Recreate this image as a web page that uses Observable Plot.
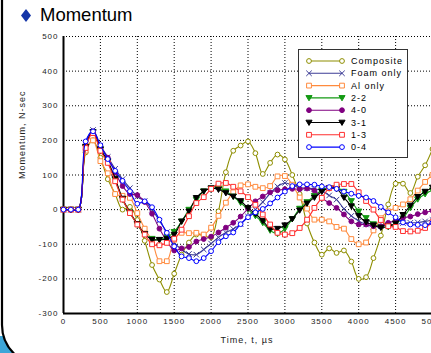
<!DOCTYPE html>
<html>
<head>
<meta charset="utf-8">
<script src="https://cdn.jsdelivr.net/npm/d3@7"></script>
<script src="https://cdn.jsdelivr.net/npm/@observablehq/plot@0.6"></script>
<style>
  html, body { margin: 0; padding: 0; background: #fff; }
  body { width: 431px; height: 353px; overflow: hidden; position: relative;
         font-family: "Liberation Sans", Arial, sans-serif; }
  #deco { position: absolute; left: 0; top: 0; }
  #title { position: absolute; left: 40px; top: 5px; font-size: 18.5px; line-height: 20px; color: #000; }
  #chart { position: absolute; left: 0; top: 0; width: 460px; }
  #chart svg { max-width: none !important; }
</style>
</head>
<body>
<svg id="deco" width="431" height="353">
  <rect x="0" y="336" width="24" height="20" fill="#3DA6D8"/>
  <path d="M2,-5 L2,325 A40,40 0 0 0 42,365 L470,365 L470,-5 Z" fill="#fff"/>
  <path d="M2,-5 L2,325 A40,40 0 0 0 42,365" fill="none" stroke="#000" stroke-width="2.2"/>
  <polygon points="26,9 31,15.5 26,22 21,15.5" fill="#1536A8"/>
</svg>
<div id="title">Momentum</div>
<div id="chart"></div>
<script>
// Sample times (µs)
const times = [0, 100, 200, 300, 400, 500, 600, 700, 800, 900,
  1000, 1100, 1200, 1300, 1400, 1500, 1600, 1700, 1800, 1900,
  2000, 2100, 2200, 2300, 2400, 2500, 2600, 2700, 2800, 2900,
  3000, 3100, 3200, 3300, 3400, 3500, 3600, 3700, 3800, 3900,
  4000, 4100, 4200, 4300, 4400, 4500, 4600, 4700, 4800, 4900, 5000];

// Momentum (N-sec) for each configuration
const composite = [0, 0, 0, 165, 200, 150, 88, 45, 0, 8,
  -30, -90, -160, -202, -238, -185, -130, -95, -72, -75,
  -80, -5, 108, 170, 185, 197, 163, 103, 135, 159,
  145, 100, 45, -40, -95, -130, -112, -125, -118, -150,
  -200, -195, -140, -75, 15, 75, 75, 48, 95, 128, 175];
const foamOnly = [0, 0, 0, 190, 230, 185, 152, 118, 88, 62,
  38, 25, 0, -32, -65, -95, -115, -128, -130, -115,
  -98, -80, -66, -56, -42, -20, 0, 22, 47, 67,
  77, 70, 64, 62, 60, 55, 41, 29, 2, -18,
  -33, -43, -50, -48, -44, -43, -39, -38, -37, -34, -30];
const alOnly = [0, 0, 0, 170, 200, 140, 105, 45, 40, 34,
  -10, -55, -90, -149, -149, -87, -67, -68, -67, -72,
  -52, -18, 20, 50, 70, 73, 66, 62, 68, 96,
  97, 72, 35, 3, -29, -29, -34, -50, -55, -85,
  -100, -95, -60, -25, -5, 5, 15, 30, 55, 80, 100];
const s22 = [0, 0, 0, 180, 224, 173, 139, 87, 29, -10,
  -43, -72, -84, -87, -80, -64, -34, 0, 29, 53,
  61, 61, 53, 38, 20, 0, -18, -38, -60, -70,
  -55, -27, 3, 22, 40, 56, 62, 62, 52, 25,
  -5, -24, -42, -50, -50, -40, -25, 5, 30, 45, 56];
const s40 = [0, 0, 0, 185, 226, 180, 150, 108, 68, 45,
  42, 22, -12, -55, -90, -118, -112, -108, -92, -85,
  -78, -66, -52, -38, -20, 3, 24, 38, 50, 56,
  59, 60, 59, 61, 55, 34, 19, 5, -14, -34,
  -43, -43, -48, -48, -38, -32, -24, -20, -13, -8, -3];
const s31 = [0, 0, 0, 182, 224, 175, 140, 90, 32, -8,
  -41, -70, -87, -87, -85, -72, -34, -5, 34, 53,
  62, 58, 48, 38, 25, 5, -12, -32, -55, -55,
  -45, -27, -2, 18, 35, 52, 62, 60, 35, 10,
  -18, -36, -45, -52, -48, -40, -15, 12, 37, 52, 64];
const s13 = [0, 0, 0, 178, 221, 170, 135, 82, 29, -10,
  -43, -72, -100, -103, -96, -84, -58, -19, 19, 36,
  60, 75, 77, 66, 53, 36, 14, -14, -43, -67,
  -72, -68, -53, -29, 5, 34, 62, 72, 74, 74,
  50, 25, 0, -30, -48, -50, -62, -63, -61, -53, -36];
const s04 = [0, 0, 0, 197, 226, 186, 146, 112, 83, 53,
  17, 24, 7, -29, -67, -106, -135, -140, -149, -140,
  -120, -94, -77, -66, -42, -22, -8, 2, 18, 35,
  52, 68, 73, 73, 72, 67, 65, 60, 52, 46,
  40, 35, 25, 8, -8, -22, -37, -43, -44, -45, -38];

const xTicks = [0, 500, 1000, 1500, 2000, 2500, 3000, 3500, 4000, 4500, 5000];
const yTicks = [-300, -200, -100, 0, 100, 200, 300, 400, 500];

// Downward-pointing triangle marker
const triangleDown = {
  draw(context, size) {
    const h = Math.sqrt(size) * 0.62;
    context.moveTo(-h, -h * 0.75);
    context.lineTo(h, -h * 0.75);
    context.lineTo(0, h * 0.95);
    context.closePath();
  }
};

const series = [
  {name: "Composite", values: composite, color: "#8E8E00", symbol: "circle", r: 2.4, fill: "white", d3sym: d3.symbolCircle},
  {name: "Foam only", values: foamOnly, color: "#3C3C96", symbol: "times", r: 2.6, fill: "none", d3sym: d3.symbolTimes},
  {name: "Al only", values: alOnly, color: "#FF8A3D", symbol: "square", r: 2.7, fill: "white", d3sym: d3.symbolSquare},
  {name: "2-2", values: s22, color: "#139A13", symbol: triangleDown, r: 2.8, fill: "#139A13", d3sym: triangleDown},
  {name: "4-0", values: s40, color: "#800080", symbol: "circle", r: 2.4, fill: "#800080", d3sym: d3.symbolCircle},
  {name: "3-1", values: s31, color: "#000000", symbol: triangleDown, r: 2.8, fill: "#000000", d3sym: triangleDown},
  {name: "1-3", values: s13, color: "#FF2F2F", symbol: "square", r: 2.7, fill: "white", d3sym: d3.symbolSquare},
  {name: "0-4", values: s04, color: "#0000FF", symbol: "circle", r: 2.4, fill: "white", d3sym: d3.symbolCircle}
];

const seriesMarks = series.flatMap(s => {
  const rows = times.map((t, i) => ({t, v: s.values[i]}));
  return [
    Plot.line(rows, {x: "t", y: "v", stroke: s.color, strokeWidth: 1.1, curve: "catmull-rom"}),
    Plot.dot(rows, {x: "t", y: "v", symbol: s.symbol, r: s.r, stroke: s.color, strokeWidth: 1, fill: s.fill})
  ];
});

const chart = Plot.plot({
  width: 460,
  height: 353,
  marginLeft: 63,
  marginRight: 28,
  marginTop: 36,
  marginBottom: 40,
  style: {background: "transparent", fontFamily: "'Liberation Sans', Arial, sans-serif", fontSize: "8px",
          color: "#222", letterSpacing: "1px", overflow: "visible", maxWidth: "none"},
  x: {domain: [0, 5000]},
  y: {domain: [-300, 500]},
  marks: [
    Plot.gridX(xTicks, {stroke: "#000", strokeOpacity: 1, strokeWidth: 1, strokeDasharray: "1,2"}),
    Plot.gridY(yTicks, {stroke: "#000", strokeOpacity: 1, strokeWidth: 1, strokeDasharray: "1,2"}),
    Plot.axisX(xTicks, {tickSize: 0, tickPadding: 5, tickFormat: d => String(d), label: null}),
    Plot.axisY(yTicks, {tickSize: 0, tickPadding: 5, tickFormat: d => String(d), label: null}),
    Plot.ruleX([0], {stroke: "#000", strokeWidth: 2}),
    Plot.ruleY([-300], {stroke: "#000", strokeWidth: 2}),
    ...seriesMarks,
    Plot.text(["Time, t, µs"], {frameAnchor: "bottom", dx: -1, dy: 29, fontSize: 9, fill: "#222"}),
    Plot.text(["Momentum, N-sec"], {frameAnchor: "left", dx: -41, dy: 4, rotate: -90, fontSize: 9, fill: "#222"})
  ]
});
chart.setAttribute("width", 460);
chart.style.width = "460px";
chart.style.height = "353px";
document.getElementById("chart").appendChild(chart);

// Legend box
const svg = d3.select(chart);
const lg = svg.append("g").attr("font-size", 9).attr("fill", "#000").attr("text-anchor", "start");
lg.append("rect").attr("x", 298.5).attr("y", 49.5).attr("width", 109).attr("height", 108)
  .attr("fill", "white").attr("stroke", "#333").attr("stroke-width", 1);
series.forEach((s, i) => {
  const y = 61 + i * 12.3;
  lg.append("line").attr("x1", 309).attr("x2", 342).attr("y1", y).attr("y2", y)
    .attr("stroke", s.color).attr("stroke-width", 1.1);
  const path = d3.symbol(s.d3sym, Math.PI * s.r * s.r)();
  [309, 342].forEach(x => {
    lg.append("path").attr("d", path).attr("transform", `translate(${x},${y})`)
      .attr("fill", s.fill).attr("stroke", s.color).attr("stroke-width", 1);
  });
  lg.append("text").attr("x", 351).attr("y", y).attr("dy", "0.35em").text(s.name);
});
</script>
</body>
</html>
